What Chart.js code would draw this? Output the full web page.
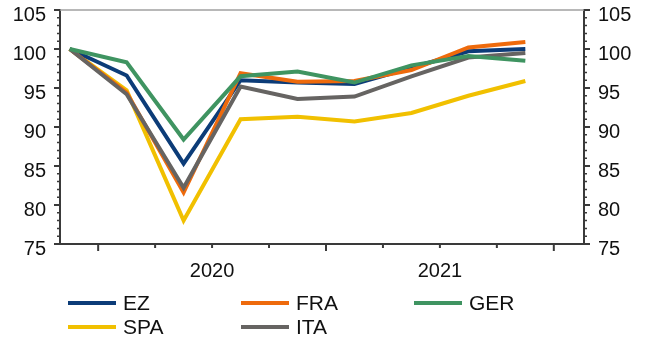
<!DOCTYPE html>
<html>
<head>
<meta charset="utf-8">
<script src="https://cdn.jsdelivr.net/npm/chart.js@4/dist/chart.umd.min.js"></script>
<style>
  html, body { margin: 0; padding: 0; background: #fff; }
  #wrap { position: relative; width: 647px; height: 337px; }
  #gdp { display: block; }
  #legend {
    position: absolute; left: 68px; top: 291px;
    display: grid; grid-template-columns: 173px 173px 173px; grid-auto-rows: 24px;
    font-family: "Liberation Sans", Arial, sans-serif; font-size: 21px; color: #111;
  }
  .item { display: flex; align-items: center; }
  .swatch { width: 48px; height: 4px; margin-right: 7px; }
</style>
</head>
<body>
<div id="wrap">
  <canvas id="gdp" width="647" height="337"></canvas>
  <div id="legend"></div>
</div>
<script>
// Real GDP, index 2019 Q4 = 100
const quarters = ['2019 Q4', '2020 Q1', '2020 Q2', '2020 Q3', '2020 Q4', '2021 Q1', '2021 Q2', '2021 Q3', '2021 Q4'];
const ez  = [100, 96.6, 85.3, 96.0, 95.7, 95.5, 97.6, 99.7, 100.0];
const fra = [100, 94.4, 81.6, 96.9, 95.8, 95.9, 97.3, 100.2, 100.9];
const ger = [100, 98.3, 88.4, 96.5, 97.1, 95.7, 97.9, 99.1, 98.5];
const spa = [100, 94.7, 78.0, 91.0, 91.3, 90.7, 91.8, 94.0, 95.9];
const ita = [100, 94.2, 82.2, 95.2, 93.6, 93.9, 96.5, 98.9, 99.5];
const yearLabels = ['2020', '2021'];
const yMin = 75, yMax = 105;

const FONT = '"Liberation Sans", Arial, sans-serif';
const AXIS = '#3a3a3a';

const pts = arr => arr.map((v, i) => ({ x: i, y: v }));

// each year label sits at the centre of that year's quarters
const yearCentre = y => {
  const idx = quarters.map((q, i) => q.startsWith(y) ? i : -1).filter(i => i >= 0);
  return idx.reduce((s, i) => s + i, 0) / idx.length;
};

const series = [
  { label: 'EZ',  data: ez,  color: '#0c3c78', order: 3 },
  { label: 'FRA', data: fra, color: '#ee6a0c', order: 2 },
  { label: 'GER', data: ger, color: '#3f9461', order: 0 },
  { label: 'SPA', data: spa, color: '#f1c000', order: 4 },
  { label: 'ITA', data: ita, color: '#666462', order: 1 }
];

// tick marks, minor and major, plus the light frame along the top
const axisDecor = {
  id: 'axisDecor',
  afterDraw(chart) {
    const { ctx, chartArea: a, scales } = chart;
    ctx.save();
    ctx.strokeStyle = '#a0a0a0';
    ctx.lineWidth = 1.5;
    ctx.beginPath();
    ctx.moveTo(a.left, a.top);
    ctx.lineTo(a.right, a.top);
    ctx.stroke();

    ctx.strokeStyle = AXIS;
    for (let v = yMin; v <= yMax; v++) {
      const major = v % 5 === 0;
      const len = major ? 6 : 3;
      ctx.lineWidth = major ? 2 : 1.5;
      const y = scales.y.getPixelForValue(v);
      ctx.beginPath();
      ctx.moveTo(a.left - len, y); ctx.lineTo(a.left, y);
      ctx.moveTo(a.right, y); ctx.lineTo(a.right + len, y);
      ctx.stroke();
    }
    quarters.forEach((q, i) => {
      const major = q.endsWith('Q4');
      const x = scales.x.getPixelForValue(i + 0.5);
      ctx.lineWidth = 2;
      ctx.beginPath();
      ctx.moveTo(x, a.bottom);
      ctx.lineTo(x, a.bottom + (major ? 7 : 4));
      ctx.stroke();
    });
    ctx.restore();
  }
};

const yAxis = (pos, w) => ({
  type: 'linear', position: pos, min: yMin, max: yMax,
  grid: { drawOnChartArea: false, drawTicks: false },
  border: { color: AXIS, width: 2 },
  ticks: {
    stepSize: 5, padding: 14, labelOffset: 5, color: '#111',
    font: { family: FONT, size: 20 }
  },
  afterFit: s => { s.width = w; s.paddingTop = 0; s.paddingBottom = 0; }
});

const chart = new Chart(document.getElementById('gdp'), {
  type: 'line',
  data: {
    datasets: series.map(s => ({
      label: s.label, data: pts(s.data), order: s.order,
      borderColor: s.color, backgroundColor: s.color,
      borderWidth: 4, pointRadius: 0, tension: 0, fill: false
    }))
  },
  options: {
    responsive: false, animation: false,
    layout: { padding: { top: 10, bottom: 53, left: 0, right: 0 } },
    plugins: { legend: { display: false }, tooltip: { enabled: false } },
    scales: {
      x: {
        type: 'linear', position: 'bottom', min: -0.17, max: 9.03,
        grid: { drawOnChartArea: false, drawTicks: false },
        border: { color: AXIS, width: 2 },
        afterBuildTicks: s => { s.ticks = yearLabels.map(y => ({ value: yearCentre(y), label: y })); },
        ticks: {
          padding: 15, color: '#111', maxRotation: 0, autoSkip: false,
          font: { family: FONT, size: 20 },
          callback: (v, i, t) => t[i].label
        },
        afterFit: s => { s.height = 40; s.paddingLeft = 0; s.paddingRight = 0; }
      },
      y: yAxis('left', 60),
      y2: yAxis('right', 63)
    }
  },
  plugins: [axisDecor]
});

// legend in three columns, built from the chart's datasets
const legend = document.getElementById('legend');
chart.data.datasets.forEach(ds => {
  const item = document.createElement('div');
  item.className = 'item';
  const sw = document.createElement('span');
  sw.className = 'swatch';
  sw.style.background = ds.borderColor;
  const tx = document.createElement('span');
  tx.textContent = ds.label;
  item.appendChild(sw);
  item.appendChild(tx);
  legend.appendChild(item);
});
</script>
</body>
</html>
